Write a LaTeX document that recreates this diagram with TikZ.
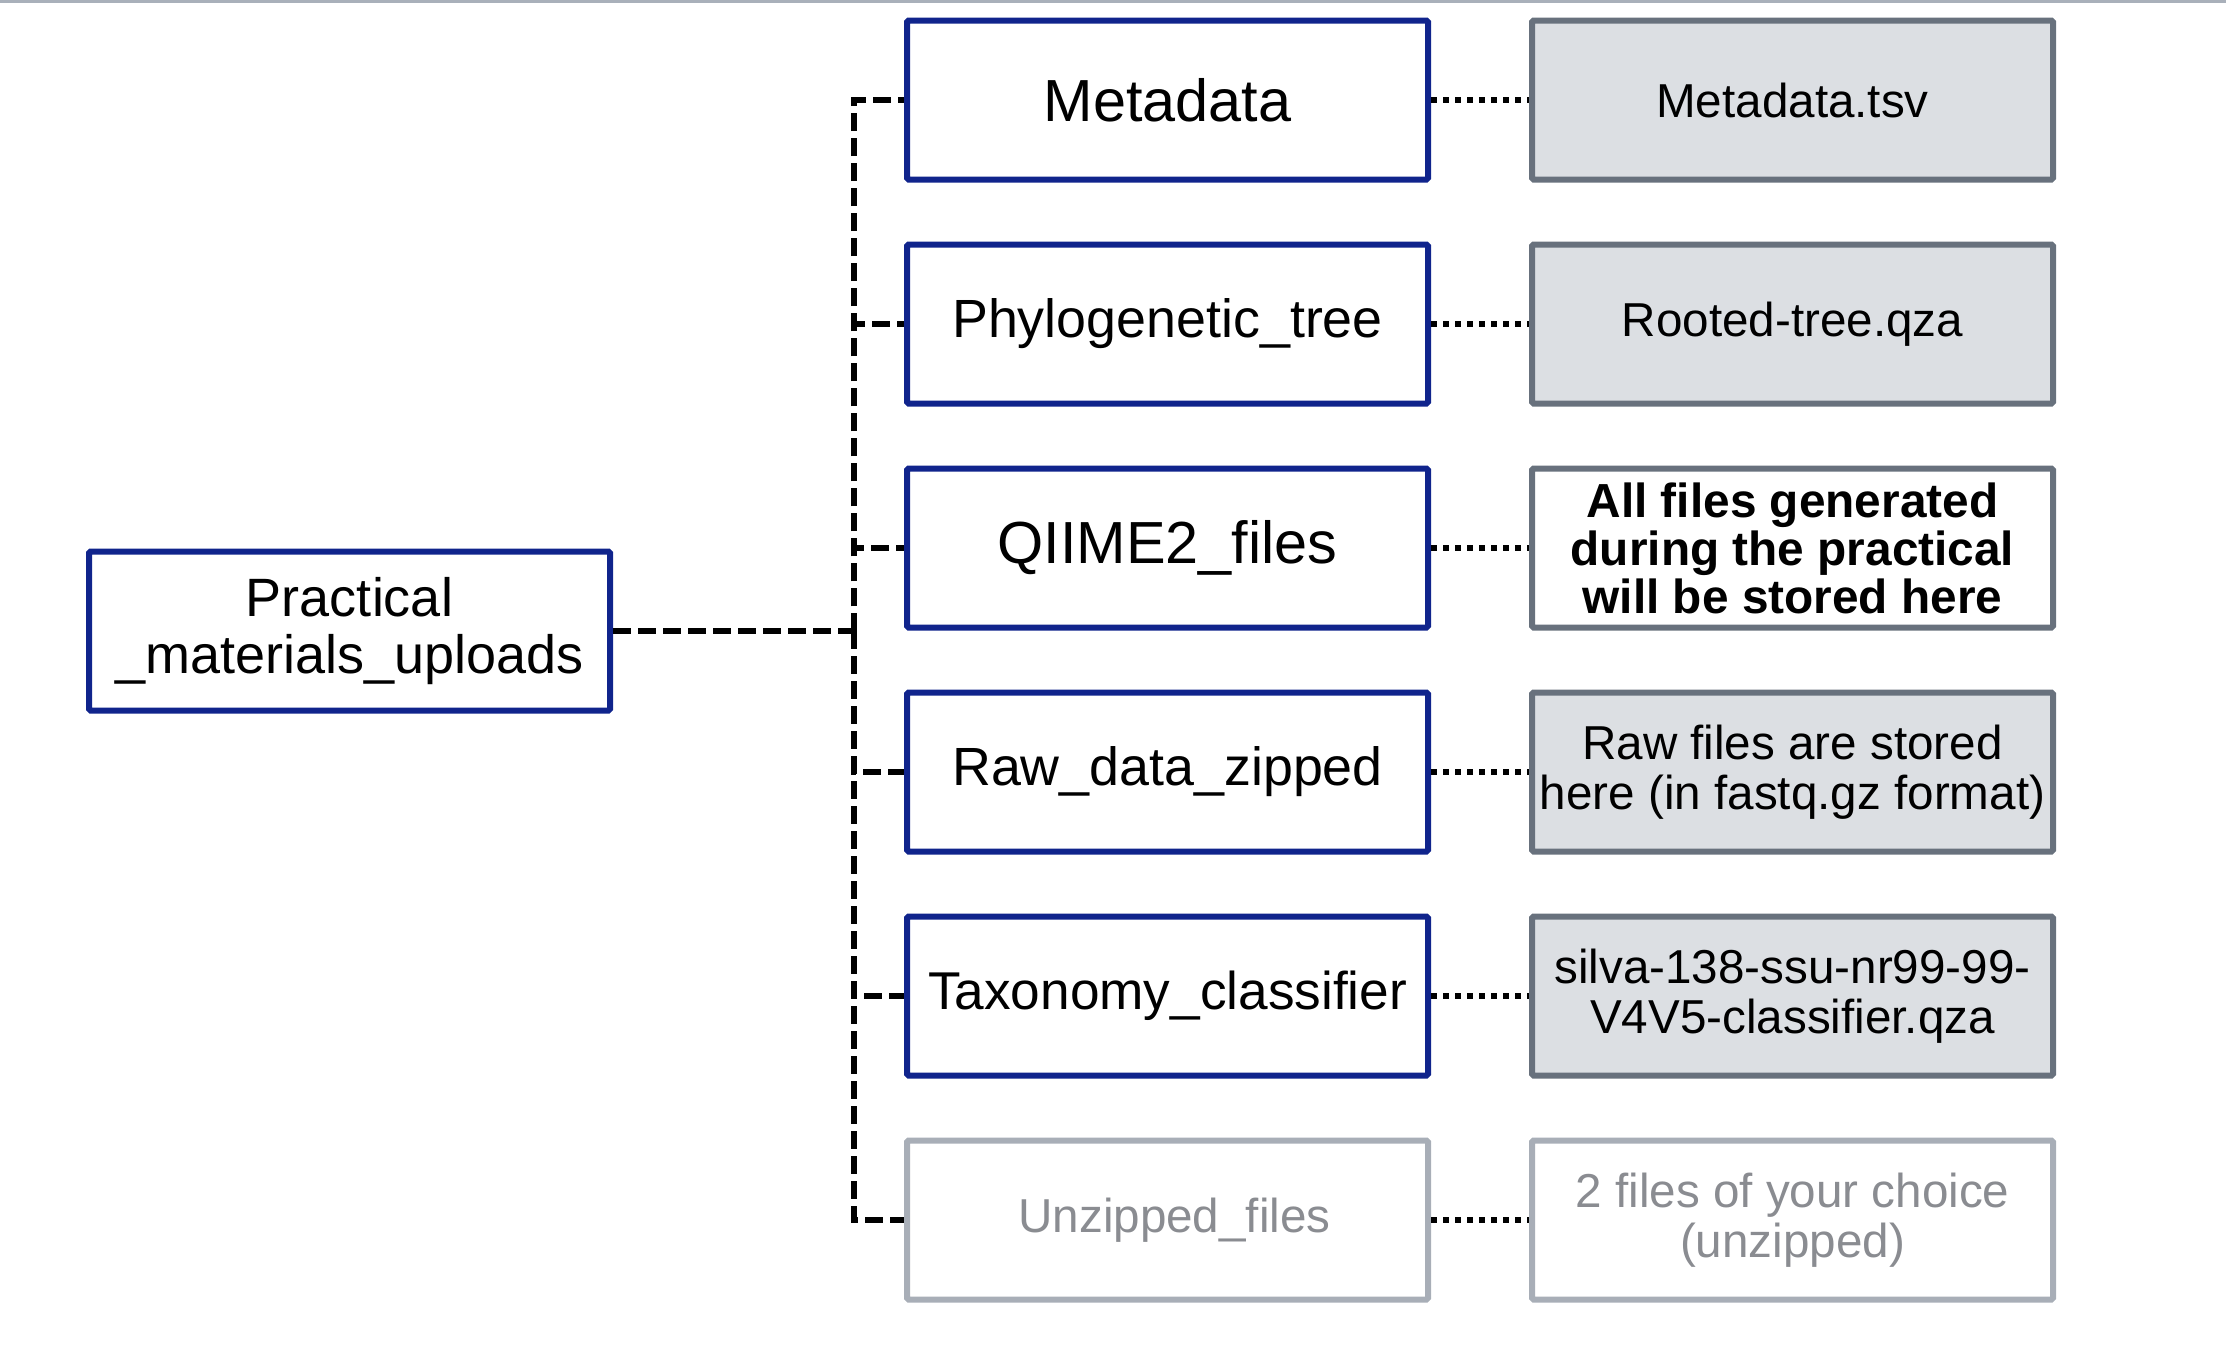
\documentclass[tikz,border=0pt]{standalone}
\usepackage{fontspec}
\setmainfont{Liberation Sans}
\definecolor{navy}{RGB}{16,36,140}
\definecolor{slate}{RGB}{104,113,125}
\definecolor{paper}{RGB}{220,223,227}
\definecolor{ghost}{RGB}{168,174,183}
\definecolor{ghosttext}{RGB}{138,140,145}
\definecolor{topline}{RGB}{169,176,186}
\begin{document}
\begin{tikzpicture}[x=0.5pt,y=-0.5pt,
  box/.style={draw, line width=3pt, minimum width=260.5pt, minimum height=79.5pt,
    align=center, inner sep=0pt, rounded corners=0.8pt},
  dirbox/.style={box, draw=navy, fill=white},
  filebox/.style={box, draw=slate, fill=paper},
  notebox/.style={box, draw=slate, fill=white},
  ghostbox/.style={box, draw=ghost, fill=white, text=ghosttext},
  trunkline/.style={line width=2.7pt, dash pattern=on 9pt off 3.5pt},
  linkline/.style={line width=3pt, dash pattern=on 3pt off 3pt},
  fbig/.style={font=\fontsize{29.7}{31}\selectfont},
  fmid/.style={font=\fontsize{26.9}{28}\selectfont},
  fsmall/.style={font=\fontsize{23.8}{25}\selectfont},
  fbold/.style={font=\fontsize{23.9}{24}\selectfont\bfseries}]
\useasboundingbox (0,0) rectangle (2226,1346);
\fill[topline] (0,0) rectangle (2226,3);

\node[dirbox, font=\fontsize{27}{28.2}\selectfont] (P) at (349.5,631) {Practical\\\_materials\_uploads};

\node[dirbox, fbig] (m1) at (1167.5,100) {Metadata};
\node[dirbox, fmid] (m2) at (1167.5,324) {Phylogenetic\_tree};
\node[dirbox, fbig] (m3) at (1167.5,548) {QIIME2\_files};
\node[dirbox, fmid] (m4) at (1167.5,772) {Raw\_data\_zipped};
\node[dirbox, font=\fontsize{26.6}{28}\selectfont] (m5) at (1167.5,996) {Taxonomy\_classifier};
\node[ghostbox, fsmall] (m6) at (1167.5,1220) {\hspace*{7pt}Unzipped\_files};

\node[filebox, fsmall] (r1) at (1792.5,100) {Metadata.tsv};
\node[filebox, fsmall] (r2) at (1792.5,324) {Rooted-tree.qza};
\node[notebox, fbold] (r3) at (1792.5,548) {All files generated\\during the practical\\will be stored here};
\node[filebox, fsmall] (r4) at (1792.5,772) {Raw files are stored\\here (in fastq.gz format)};
\node[filebox, fsmall] (r5) at (1792.5,996) {silva-138-ssu-nr99-99-\\V4V5-classifier.qza};
\node[ghostbox, fsmall] (r6) at (1792.5,1220) {2 files of your choice\\(unzipped)};

\coordinate (J) at (854,631);
\draw[trunkline] (P.east) -- (J);
\foreach \i in {1,...,6}{
  \draw[trunkline] (J) |- (m\i.west);
  \draw[linkline] (m\i.east) -- (r\i.west);
}
\end{tikzpicture}
\end{document}
